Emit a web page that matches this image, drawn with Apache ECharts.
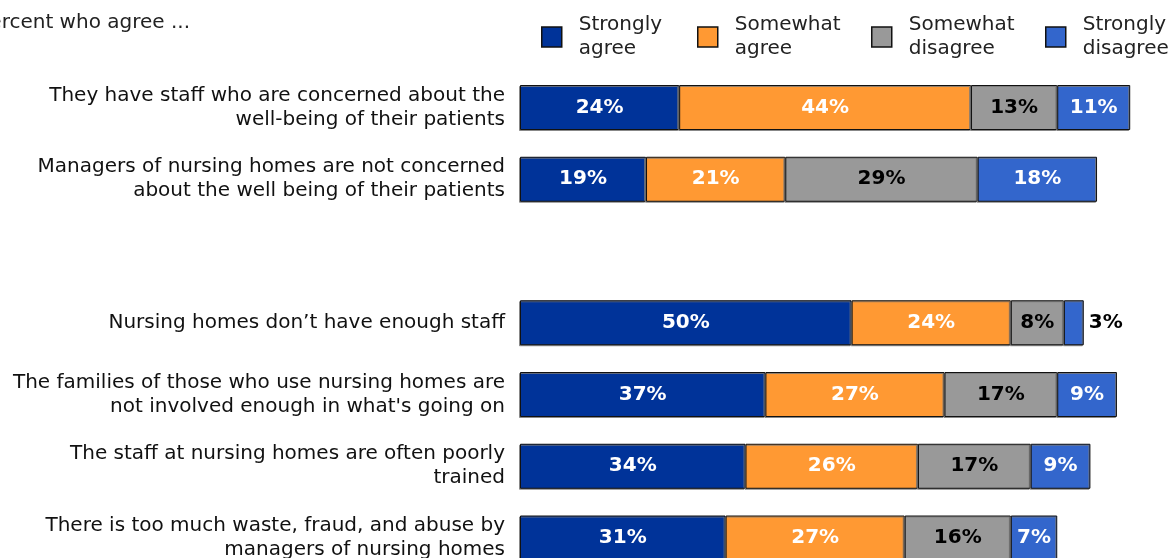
<!DOCTYPE html>
<html>
<head>
<meta charset="utf-8">
<script src="https://cdn.jsdelivr.net/npm/echarts@6/dist/echarts.min.js"></script>
<style>html,body{margin:0;padding:0;background:#fff}#c{width:1170px;height:558px}</style>
</head>
<body>
<div id="c"></div>
<script>
const categories = [
  'They have staff who are concerned about the\nwell-being of their patients',
  'Managers of nursing homes are not concerned\nabout the well being of their patients',
  '',
  'Nursing homes don\u2019t have enough staff',
  'The families of those who use nursing homes are\nnot involved enough in what\'s going on',
  'The staff at nursing homes are often poorly\ntrained',
  'There is too much waste, fraud, and abuse by\nmanagers of nursing homes'
];
const seriesNames = ['Strongly\nagree', 'Somewhat\nagree', 'Somewhat\ndisagree', 'Strongly\ndisagree'];
const stronglyAgree    = [24, 19, null, 50, 37, 34, 31];
const somewhatAgree    = [44, 21, null, 24, 27, 26, 27];
const somewhatDisagree = [13, 29, null, 8, 17, 17, 16];
const stronglyDisagree = [11, 18, null, 3, 9, 9, 7];
const subtitle = 'Percent who agree ...';

const colors = ['#003399', '#FF9933', '#999999', '#3366CC'];
const labelColors = ['#ffffff', '#ffffff', '#000000', '#ffffff'];
const values = [stronglyAgree, somewhatAgree, somewhatDisagree, stronglyDisagree];
const legendX = [536, 692, 866, 1040];
const FONT = 'DejaVu Sans';

const chart = echarts.init(document.getElementById('c'));
const series = values.map((arr, i) => ({
  name: seriesNames[i],
  type: 'bar',
  stack: 'total',
  barWidth: 45,
  clip: false,
  itemStyle: {
    color: colors[i], borderColor: '#111', borderWidth: 1,
    shadowColor: 'rgba(120,120,120,0.8)', shadowOffsetX: -1, shadowOffsetY: 1, shadowBlur: 0
  },
  label: {
    show: true, position: 'inside', color: labelColors[i],
    fontFamily: FONT, fontWeight: 'bold', fontSize: 20,
    formatter: p => p.value == null ? '' : p.value + '%'
  },
  data: arr.map(v => (v != null && v < 5)
    ? { value: v, label: { position: 'right', color: '#000', distance: 5 } }
    : v)
}));

const legends = seriesNames.map((n, i) => ({
  data: [n], left: legendX[i], top: 8, orient: 'horizontal',
  itemWidth: 20, itemHeight: 20, icon: 'rect', itemGap: 0,
  selectedMode: false,
  itemStyle: { borderColor: '#111', borderWidth: 1.5 },
  textStyle: { fontFamily: FONT, fontSize: 20, color: '#222', lineHeight: 24, padding: [0, 0, 0, 12] }
}));

chart.setOption({
  animation: false,
  backgroundColor: '#fff',
  legend: legends,
  grid: { left: 520, top: 107.5, right: 0, height: 430.5, containLabel: false, outerBoundsMode: 'none' },
  xAxis: { type: 'value', min: 0, max: 98, show: false },
  yAxis: {
    type: 'category', data: categories, inverse: true, boundaryGap: false,
    axisLine: { show: false }, axisTick: { show: false }, splitLine: { show: false },
    axisLabel: { margin: 15, fontFamily: FONT, fontSize: 20, color: '#111', lineHeight: 24, align: 'right', padding: [0, 0, 3, 0] }
  },
  graphic: [{
    type: 'text', x: 190, y: 23,
    style: { text: subtitle, fontFamily: FONT, fontSize: 20, fill: '#222', align: 'right', verticalAlign: 'middle' }
  }],
  series: series
});
</script>
</body>
</html>
